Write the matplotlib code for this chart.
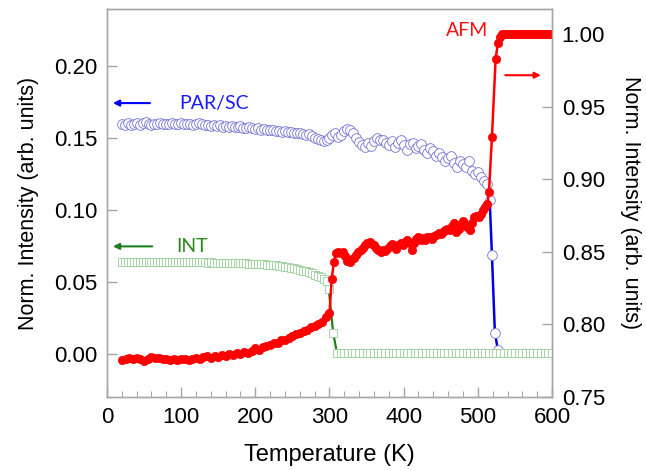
import matplotlib.pyplot as plt
import numpy as np

plt.rcParams['font.family'] = ['Liberation Sans', 'DejaVu Sans']

# AFM (red, right axis)
t_afm = [20, 25, 30, 35, 40, 45, 50, 55, 60, 65, 70, 75, 80, 85, 90, 95, 100,
         105, 110, 115, 120, 125, 130, 135, 140, 145, 150, 155, 160, 165, 170,
         175, 180, 185, 190, 195, 200, 205, 210, 215, 220, 225, 230, 235, 240,
         245, 250, 255, 260, 265, 270, 275, 280, 285, 290, 295, 300,
         303, 306, 309, 312, 315, 318, 321, 324, 327, 330, 333, 336, 339, 342,
         345, 348, 351, 354, 357, 360, 363, 366, 369, 372, 375, 378, 381, 384,
         387, 390, 393, 396, 399, 402, 405, 408, 411, 414, 417, 420, 423, 426,
         429, 432, 435, 438, 441, 444, 447, 450, 453, 456, 459, 462, 465, 468,
         471, 474, 477, 480, 483, 486, 489, 492, 495, 498, 501, 504, 507, 510,
         513, 515, 519, 524, 527, 530, 533, 536, 539, 542, 545, 548, 551, 554,
         557, 560, 563, 566, 569, 572, 575, 578, 581, 584, 587, 590, 593, 596, 600]
afm = [0.7755, 0.7762, 0.7768, 0.7760, 0.7772, 0.7765, 0.7750, 0.7762, 0.7775,
       0.7768, 0.7772, 0.7760, 0.7765, 0.7758, 0.7762, 0.7755, 0.7760, 0.7765,
       0.7758, 0.7762, 0.7770, 0.7762, 0.7775, 0.7780, 0.7772, 0.7785, 0.7778,
       0.7790, 0.7785, 0.7795, 0.7790, 0.7800, 0.7798, 0.7810, 0.7805, 0.7820,
       0.7835, 0.7825, 0.7845, 0.7850, 0.7860, 0.7870, 0.7875, 0.7890, 0.7895,
       0.7910, 0.7920, 0.7935, 0.7940, 0.7955, 0.7965, 0.7980, 0.7990, 0.8005,
       0.8020, 0.8050, 0.8080,
       0.8315, 0.8430, 0.8490, 0.8500, 0.8490, 0.8500, 0.8470, 0.8440, 0.8430,
       0.8450, 0.8460, 0.8480, 0.8500, 0.8510, 0.8530, 0.8550, 0.8560, 0.8570,
       0.8555, 0.8550, 0.8530, 0.8510, 0.8500, 0.8510, 0.8505, 0.8520, 0.8540,
       0.8555, 0.8540, 0.8520, 0.8550, 0.8565, 0.8545, 0.8570, 0.8580, 0.8560,
       0.8510, 0.8560, 0.8590, 0.8600, 0.8585, 0.8595, 0.8580, 0.8600, 0.8605,
       0.8590, 0.8610, 0.8620, 0.8630, 0.8625, 0.8640, 0.8650, 0.8660, 0.8650,
       0.8680, 0.8700, 0.8640, 0.8660, 0.8690, 0.8710, 0.8690, 0.8670, 0.8650,
       0.8700, 0.8740, 0.8750, 0.8740, 0.8760, 0.8790, 0.8810, 0.8830, 0.8910,
       0.9290, 0.9830, 0.9940, 0.9980, 1.0, 1.0, 1.0, 1.0, 1.0, 1.0, 1.0,
       1.0, 1.0, 1.0, 1.0, 1.0, 1.0, 1.0, 1.0, 1.0, 1.0, 1.0, 1.0, 1.0, 1.0,
       1.0, 1.0]

# PAR/SC (blue, left axis)
t_par = [20, 24, 28, 32, 36, 40, 44, 48, 52, 56, 60, 64, 68, 72, 76, 80, 84,
         88, 92, 96, 100, 104, 108, 112, 116, 120, 124, 128, 132, 136, 140,
         144, 148, 152, 156, 160, 164, 168, 172, 176, 180, 184, 188, 192, 196,
         200, 204, 208, 212, 216, 220, 224, 228, 232, 236, 240, 244, 248, 252,
         256, 260, 264, 268, 272, 276, 280, 284, 288, 292, 296, 300, 304, 308,
         312, 316, 320, 324, 328, 332, 336, 340, 344, 348, 352, 356, 360, 364,
         368, 372, 376, 380, 384, 388, 392, 396, 400, 404, 408, 412, 416, 420,
         424, 428, 432, 436, 440, 444, 448, 452, 456, 460, 464, 468, 472, 476,
         480, 484, 488, 492, 496, 500, 504, 508, 512, 516, 519, 523, 527]
par = [0.1600, 0.1595, 0.1605, 0.1590, 0.1598, 0.1605, 0.1595, 0.1608, 0.1612,
       0.1600, 0.1595, 0.1602, 0.1598, 0.1605, 0.1600, 0.1596, 0.1602, 0.1606,
       0.1600, 0.1598, 0.1605, 0.1600, 0.1596, 0.1602, 0.1594, 0.1600, 0.1604,
       0.1596, 0.1590, 0.1594, 0.1588, 0.1592, 0.1585, 0.1590, 0.1582, 0.1586,
       0.1580, 0.1584, 0.1576, 0.1580, 0.1585, 0.1575, 0.1572, 0.1578, 0.1570,
       0.1566, 0.1572, 0.1560, 0.1565, 0.1558, 0.1555, 0.1560, 0.1548, 0.1552,
       0.1545, 0.1550, 0.1542, 0.1546, 0.1538, 0.1540, 0.1535, 0.1530, 0.1525,
       0.1528, 0.1515, 0.1505, 0.1498, 0.1490, 0.1480, 0.1486, 0.1500, 0.1525,
       0.1540, 0.1512, 0.1525, 0.1550, 0.1562, 0.1555, 0.1535, 0.1505, 0.1475,
       0.1455, 0.1440, 0.1465, 0.1445, 0.1480, 0.1500, 0.1490, 0.1485, 0.1470,
       0.1455, 0.1480, 0.1440, 0.1465, 0.1485, 0.1450, 0.1420, 0.1460, 0.1470,
       0.1430, 0.1445, 0.1460, 0.1420, 0.1400, 0.1430, 0.1410, 0.1380, 0.1400,
       0.1370, 0.1340, 0.1360, 0.1380, 0.1330, 0.1300, 0.1345, 0.1320, 0.1300,
       0.1340, 0.1270, 0.1250, 0.1265, 0.1230, 0.1200, 0.1180, 0.1070, 0.0690,
       0.0145, 0.0030]

# INT (green, left axis)
t_int = [20, 24, 28, 32, 36, 40, 44, 48, 52, 56, 60, 64, 68, 72, 76, 80, 84,
         88, 92, 96, 100, 104, 108, 112, 116, 120, 124, 128, 132, 136, 140,
         144, 148, 152, 156, 160, 164, 168, 172, 176, 180, 184, 188, 192, 196,
         200, 204, 208, 212, 216, 220, 224, 228, 232, 236, 240, 244, 248, 252,
         256, 260, 264, 268, 272, 276, 280, 284, 288, 292, 296, 299, 305, 310,
         315, 320, 325, 330, 335, 340, 345, 350, 355, 360, 365, 370, 375, 380,
         385, 390, 395, 400, 405, 410, 415, 420, 425, 430, 435, 440, 445, 450,
         455, 460, 465, 470, 475, 480, 485, 490, 495, 500, 505, 510, 515, 520,
         525, 530, 535, 540, 545, 550, 555, 560, 565, 570, 575, 580, 585, 590,
         595, 600]
intens = [0.0637, 0.0638, 0.0637, 0.0637, 0.0636, 0.0637, 0.0638, 0.0637,
          0.0637, 0.0636, 0.0637, 0.0637, 0.0638, 0.0637, 0.0636, 0.0637,
          0.0637, 0.0637, 0.0636, 0.0637, 0.0637, 0.0636, 0.0637, 0.0637,
          0.0636, 0.0636, 0.0637, 0.0636, 0.0636, 0.0635, 0.0636, 0.0635,
          0.0635, 0.0634, 0.0634, 0.0633, 0.0633, 0.0632, 0.0632, 0.0631,
          0.0630, 0.0630, 0.0629, 0.0628, 0.0627, 0.0626, 0.0625, 0.0624,
          0.0622, 0.0621, 0.0619, 0.0617, 0.0615, 0.0613, 0.0610, 0.0607,
          0.0604, 0.0600, 0.0596, 0.0591, 0.0586, 0.0580, 0.0574, 0.0567,
          0.0560, 0.0552, 0.0543, 0.0533, 0.0522, 0.0505, 0.0450, 0.0145,
          0.0007, 0.0004, 0.0004, 0.0003, 0.0004, 0.0003, 0.0003, 0.0004,
          0.0003, 0.0003, 0.0004, 0.0003, 0.0003, 0.0004, 0.0003, 0.0003,
          0.0004, 0.0003, 0.0003, 0.0004, 0.0003, 0.0003, 0.0004, 0.0003,
          0.0003, 0.0004, 0.0003, 0.0003, 0.0004, 0.0003, 0.0003, 0.0004,
          0.0003, 0.0003, 0.0004, 0.0003, 0.0003, 0.0004, 0.0003, 0.0003,
          0.0004, 0.0003, 0.0003, 0.0004, 0.0003, 0.0003, 0.0004, 0.0003,
          0.0003, 0.0004, 0.0003, 0.0003, 0.0004, 0.0003, 0.0003, 0.0004,
          0.0003, 0.0003, 0.0004]

grey = '#a6a6a6'

fig = plt.figure(figsize=(6.46, 4.70), dpi=100)
ax = fig.add_axes([0.1656, 0.1553, 0.6889, 0.8257])
ax2 = ax.twinx()

ax.plot(t_par, par, '-', color='#0000e0', lw=1.8, marker='o', ms=7,
        mfc='white', mec='#7474d4', mew=0.6, zorder=2)
ax.plot(t_int, intens, '-', color='#1e7f1e', lw=1.6, marker='s', ms=6,
        mfc='white', mec='#9acd9a', mew=0.6, zorder=3)
ax2.plot(t_afm, afm, '-', color='#ff0000', lw=1.8, marker='o', ms=6,
         mfc='#ff0000', mec='#ff0000', mew=0.5)

ax.set_xlim(0, 600)
ax.set_ylim(-0.03, 0.24)
ax2.set_ylim(0.75, 1.0175)
ax.set_xticks([0, 100, 200, 300, 400, 500, 600])
ax.set_xticks(np.arange(0, 601, 20), minor=True)
ax.set_yticks([0.0, 0.05, 0.10, 0.15, 0.20])
ax.set_yticklabels(['0.00', '0.05', '0.10', '0.15', '0.20'])
ax2.set_yticks([0.75, 0.80, 0.85, 0.90, 0.95, 1.00])
ax2.set_yticklabels(['0.75', '0.80', '0.85', '0.90', '0.95', '1.00'])

for a in (ax, ax2):
    for s in a.spines.values():
        s.set_color(grey)
        s.set_linewidth(1.0)
    a.tick_params(which='both', direction='in', color=grey, labelsize=16,
                  labelcolor='black')
    a.tick_params(which='major', length=7, width=1.0, pad=7)
    a.tick_params(which='minor', length=4, width=0.8)
ax.tick_params(axis='y', which='minor', left=False)

ax.set_xlabel('Temperature (K)', fontsize=17, labelpad=12)
ax.set_ylabel('Norm. Intensity (arb. units)', fontsize=15.5, labelpad=11)
ax2.set_ylabel('Norm. Intensity (arb. units)', fontsize=15.5, rotation=270,
               labelpad=26)

lab = dict(fontsize=14, family=['Lato', 'DejaVu Sans'], va='center')
ax.text(98, 0.1745, 'PAR/SC', color='#1a1aff', **lab)
ax.text(94, 0.0748, 'INT', color='#2a8a1a', **lab)
ax2.text(485, 1.0025, 'AFM', color='#ff1010', ha='center', **lab)

arr = dict(arrowstyle='-|>', lw=1.5, mutation_scale=9, shrinkA=0, shrinkB=0)
ax.annotate('', xy=(8, 0.1745), xytext=(58, 0.1745),
            arrowprops=dict(color='#0000ff', **arr))
ax.annotate('', xy=(8, 0.0748), xytext=(61, 0.0748),
            arrowprops=dict(color='#1e7f1e', **arr))
ax2.annotate('', xy=(585, 0.9718), xytext=(537, 0.9718),
             arrowprops=dict(color='#ff0000', **arr))

fig.savefig('out.png', dpi=100)
